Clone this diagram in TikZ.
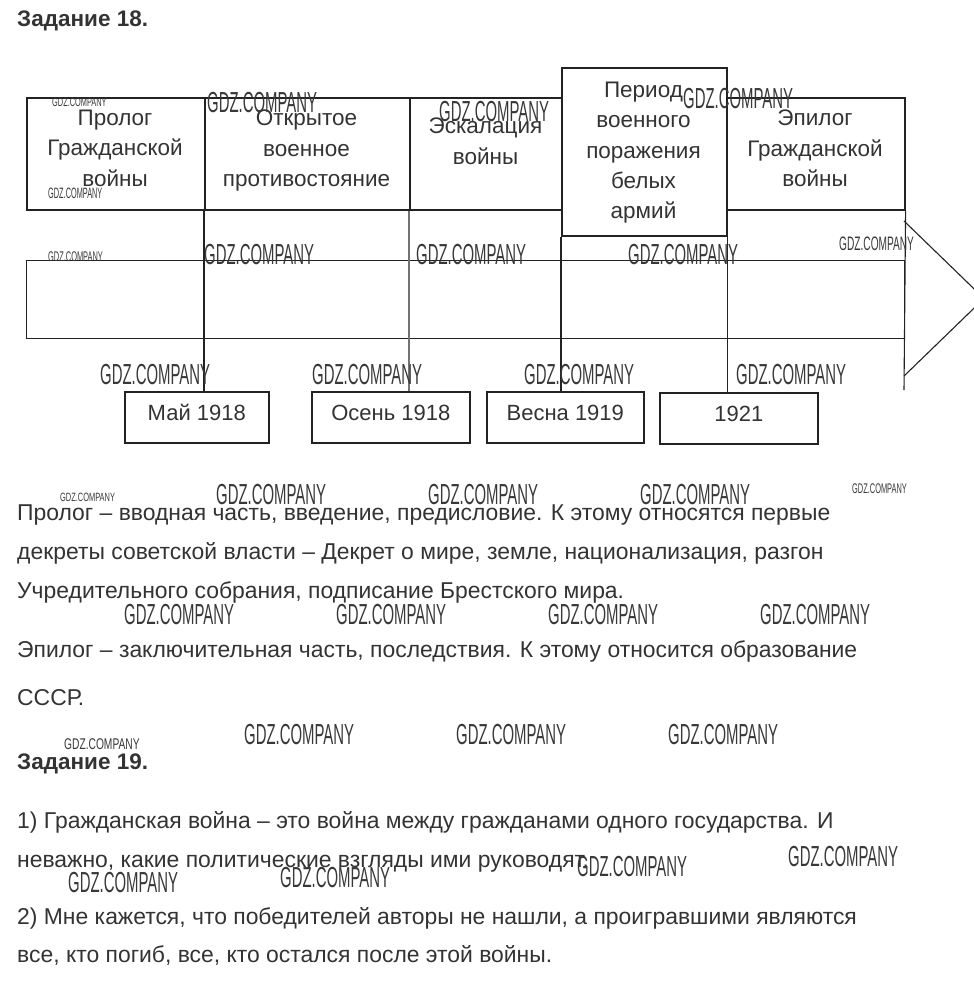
\documentclass[tikz,border=0pt]{standalone}
\usepackage{fontspec}
\setmainfont{Liberation Sans}
\usepackage{graphicx}
\usetikzlibrary{calc}
\definecolor{ink}{HTML}{333333}
\definecolor{rule}{HTML}{222222}
\newcommand\wmtext[2]{\fontsize{#1}{#1}\selectfont\scalebox{#2}[1]{GDZ.COMPANY}}
\begin{document}
\begin{tikzpicture}[x=1pt,y=-1pt,
  box/.style={draw=rule, line width=1.6pt, rectangle, inner sep=0pt, anchor=north west},
  boxtxt/.style={inner sep=0pt, anchor=north, align=center, text=ink, font=\fontsize{22.5}{30.3}\selectfont},
  datebox/.style={draw=rule, line width=1.6pt, rectangle, inner sep=0pt, anchor=north west, minimum height=51pt, text height=16pt, text depth=9pt, text=ink, font=\fontsize{22}{26}\selectfont},
  link/.style={draw=rule, line width=1.1pt},
  body/.style={inner sep=0pt, anchor=base west, text=ink, font=\fontsize{22.9}{26}\selectfont},
  head/.style={inner sep=0pt, anchor=base west, text=ink, font=\fontsize{22.5}{26}\selectfont\bfseries},
  wm/.style={inner sep=0pt, anchor=north west, text=black!78}]
\path[use as bounding box, clip] (0,0) rectangle (974,985);

\node[head] (h18) at (17,27) {Задание 18.};

% top boxes
\node[box, minimum width=178pt, minimum height=112pt] (b1) at (26,97) {};
\node[box, minimum width=205pt, minimum height=112pt] (b2) at (204,97) {};
\node[box, minimum width=152pt, minimum height=112pt] (b3) at (409,97) {};
\node[box, minimum width=178pt, minimum height=112pt] (b5) at (726,97) {};
\node[box, minimum width=165pt, minimum height=168pt] (b4) at (561,67) {};

\node[boxtxt] (t1) at (115,110) {Пролог\\Гражданской\\войны};
\node[boxtxt] (t2) at (306.5,110) {Открытое\\военное\\противостояние};
\node[boxtxt] (t3) at (485.5,118) {Эскалация\\войны};
\node[boxtxt] (t4) at (643.5,82) {Период\\военного\\поражения\\белых\\армий};
\node[boxtxt] (t5) at (815,110) {Эпилог\\Гражданской\\войны};

% band
\node[draw=rule, line width=1.3pt, rectangle, inner sep=0pt, anchor=north west, minimum width=878pt, minimum height=78pt] (band) at (26,260) {};

% date boxes
\node[datebox, minimum width=144pt] (d1) at (124,391) {Май 1918};
\node[datebox, minimum width=158pt] (d2) at (311,391) {Осень 1918};
\node[datebox, minimum width=157pt] (d3) at (486,391) {Весна 1919};
\node[datebox, minimum width=158pt] (d4) at (659,392) {1921};

% connectors
\draw[link] (b2.south west) -- (b2.south west |- d1.north);
\draw[link, draw=black!55] (b3.south west) -- (b3.south west |- d2.north);
\draw[link] (b4.south west) -- (b4.south west |- d3.north);
\draw[link] (b4.south east) -- (b4.south east |- d4.north);
\coordinate (axisend) at (904,390);
\coordinate (arrtop) at (904,221);
\coordinate (arrbot) at (904,376);
\coordinate (tip) at (984,298.5);
\draw[link] (b5.south east) -- (axisend);
\draw[link] (arrtop) -- (tip) -- (arrbot);

% text
\node[body] (p1) at (17,520) {Пролог – вводная часть, введение, предисловие. К этому относятся первые};
\node[body] (p2) at (17,559.5) {декреты советской власти – Декрет о мире, земле, национализация, разгон};
\node[body] (p3) at (17,598.5) {Учредительного собрания, подписание Брестского мира.};
\node[body] (p4) at (17,657.5) {Эпилог – заключительная часть, последствия. К этому относится образование};
\node[body] (p5) at (17,705.5) {СССР.};

\node[head] (h19) at (17,769) {Задание 19.};
\node[body] (q1) at (17,828) {1) Гражданская война – это война между гражданами одного государства. И};
\node[body] (q2) at (17,867) {неважно, какие политические взгляды ими руководят.};
\node[body] (q3) at (17,924.5) {2) Мне кажется, что победителей авторы не нашли, а проигравшими являются};
\node[body] (q4) at (17,962) {все, кто погиб, все, кто остался после этой войны.};

% watermarks
\node[wm] (w1) at (52,98) {\wmtext{12.5}{.59}};
\node[wm] (w2) at (207,92) {\wmtext{29}{.514}};
\node[wm] (w3) at (439,101) {\wmtext{29}{.514}};
\node[wm] (w4) at (48,188) {\wmtext{15}{.49}};
\node[wm] (w5) at (683,88) {\wmtext{29}{.514}};
\node[wm] (w6) at (48,252) {\wmtext{14}{.53}};
\node[wm] (w7) at (204,244) {\wmtext{29}{.514}};
\node[wm] (w8) at (416,244) {\wmtext{29}{.514}};
\node[wm] (w9) at (628,244) {\wmtext{29}{.514}};
\node[wm] (w10) at (839,237) {\wmtext{19.5}{.52}};
\node[wm] (w11) at (100,364) {\wmtext{29}{.514}};
\node[wm] (w12) at (312,364) {\wmtext{29}{.514}};
\node[wm] (w13) at (524,364) {\wmtext{29}{.514}};
\node[wm] (w14) at (736,364) {\wmtext{29}{.514}};
\node[wm] (w15) at (60,493) {\wmtext{12}{.62}};
\node[wm] (w16) at (216,484) {\wmtext{29}{.514}};
\node[wm] (w17) at (428,484) {\wmtext{29}{.514}};
\node[wm] (w18) at (640,484) {\wmtext{29}{.514}};
\node[wm] (w19) at (852,484) {\wmtext{14}{.53}};
\node[wm] (w20) at (124,604) {\wmtext{29}{.514}};
\node[wm] (w21) at (336,604) {\wmtext{29}{.514}};
\node[wm] (w22) at (548,604) {\wmtext{29}{.514}};
\node[wm] (w23) at (760,604) {\wmtext{29}{.514}};
\node[wm] (w24) at (64,738) {\wmtext{15.5}{.66}};
\node[wm] (w25) at (244,724) {\wmtext{29}{.514}};
\node[wm] (w26) at (456,724) {\wmtext{29}{.514}};
\node[wm] (w27) at (668,724) {\wmtext{29}{.514}};
\node[wm] (w28) at (68,872) {\wmtext{29}{.514}};
\node[wm] (w29) at (280,867) {\wmtext{29}{.514}};
\node[wm] (w30) at (577,856) {\wmtext{29}{.514}};
\node[wm] (w31) at (788,846) {\wmtext{29}{.514}};
\end{tikzpicture}
\end{document}
